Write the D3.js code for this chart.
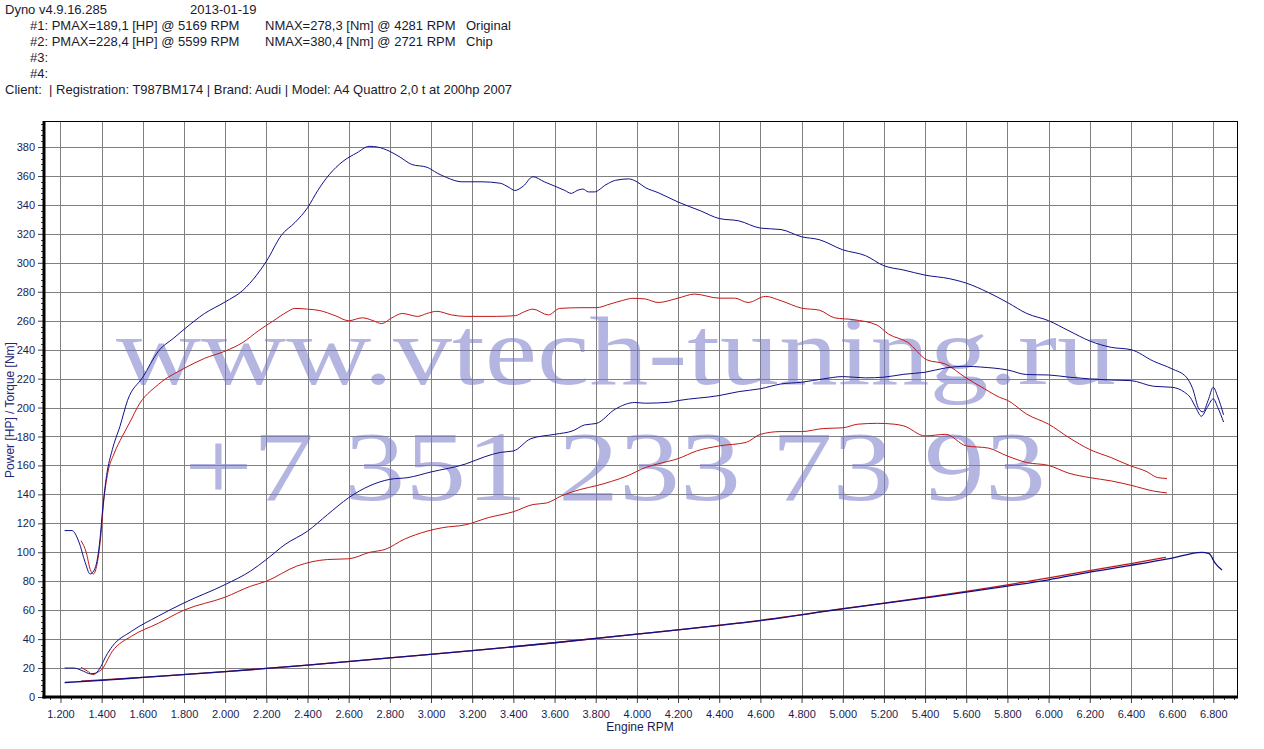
<!DOCTYPE html>
<html><head><meta charset="utf-8">
<script src="https://cdn.jsdelivr.net/npm/d3@7"></script>
<style>body{margin:0;background:#fff}svg{display:block}</style>
</head><body>
<svg id="c" width="1264" height="749"></svg>
<script>
// ---- header texts ----
const headerLines = [
  ["Dyno v4.9.16.285", "2013-01-19"],
  ["#1: PMAX=189,1 [HP] @ 5169 RPM", "NMAX=278,3 [Nm] @ 4281 RPM", "Original"],
  ["#2: PMAX=228,4 [HP] @ 5599 RPM", "NMAX=380,4 [Nm] @ 2721 RPM", "Chip"],
  ["#3:"],
  ["#4:"],
  ["Client:  | Registration: T987BM174 | Brand: Audi | Model: A4 Quattro 2,0 t at 200hp 2007"]
];
const xTitle = "Engine RPM";
const yTitle = "Power [HP] / Torque [Nm]";
const watermark1 = "www.vtech-tuning.ru";
const watermark2 = "+7 351 233 73 93";

// ---- axis ticks ----
const xTicks = [1200,1400,1600,1800,2000,2200,2400,2600,2800,3000,3200,3400,3600,3800,4000,4200,4400,4600,4800,5000,5200,5400,5600,5800,6000,6200,6400,6600,6800];
const yTicks = [0,20,40,60,80,100,120,140,160,180,200,220,240,260,280,300,320,340,360,380];

// ---- series: Chip torque [Nm] ----
const chipTorqueRpm = [1220,1256,1290,1320,1344,1368,1392,1405,1424,1452,1489,1526,1600,1676,1750,1800,1900,2000,2086,2150,2200,2273,2340,2400,2450,2506,2571,2640,2700,2740,2800,2850,2906,2981,3030,3075,3150,3243,3336,3380,3407,3448,3495,3550,3601,3650,3681,3710,3737,3765,3793,3850,3896,3960,4000,4041,4103,4200,4308,4400,4495,4600,4700,4800,4886,5000,5110,5200,5297,5400,5520,5600,5707,5800,5894,6000,6099,6200,6304,6400,6510,6600,6669,6700,6730,6750,6775,6800,6820,6850];
const chipTorqueVal = [115,115,107,93,85,89,109,130,153,171,187,205,221,239,248,254,265,273,281,291,301,319,328,338,350,361,370,376,380.5,380,377,373,368,366,362,359,356,356,355,352,350,353,359.5,356,353,350,348,350,351,349,349,354,357,358,356,352,348.5,342,336,330.6,329,324,323,318,316,309,305,298,295,291.5,289,286,279.5,272.6,265,260,253,246,241.6,240,232,226.7,221,213,199,197,205,214,208,195];

// ---- series: Original torque [Nm] ----
const origTorqueRpm = [1300,1325,1345,1360,1375,1395,1410,1430,1460,1500,1545,1573,1676,1800,1900,2000,2086,2161,2235,2300,2338,2400,2460,2534,2600,2666,2720,2760,2810,2860,2935,2980,3028,3100,3168,3317,3410,3450,3495,3570,3625,3728,3803,3869,3930,3981,4041,4103,4200,4280,4400,4475,4540,4625,4700,4800,4886,4961,5054,5166,5222,5316,5408,5500,5594,5688,5763,5800,5894,6000,6099,6200,6304,6400,6473,6530,6575];
const origTorqueVal = [108,100,88,85,90,110,135,155,168,180,192,200,216,227,234,239,245,253,260,266,268.5,268,267,263.5,260,262,260,258,262,265,263,265,266.5,264,263,263,263.5,266,268,264,268.5,269,269,271.5,274,275.5,275,272.6,275.6,278.4,275.6,275.6,272.6,276.8,273.8,268.7,267.3,262,260.7,257,250.8,245,233,230,221,213,207,205,195.4,188.5,179.2,171,165.4,159.6,156,151.6,151];

// ---- series: Chip power [HP] ----
const chipPowerRpm = [1220,1265,1312,1345,1370,1396,1420,1452,1545,1676,1800,2000,2123,2200,2291,2400,2497,2600,2703,2800,2888,3000,3168,3261,3336,3400,3485,3601,3690,3746,3803,3896,3990,4041,4159,4200,4400,4495,4600,4700,4800,4905,5000,5110,5200,5297,5400,5500,5600,5669,5800,5894,6000,6099,6200,6304,6400,6510,6600,6660,6688,6715,6742,6770,6800,6822,6850];
const chipPowerVal = [20,20,17.8,16,16.5,21,28,35,45.4,56,65,77.7,87,95,105.4,114.6,126,137.7,146,150.4,151.6,155.5,161,166,169,170,178.5,181.5,184,188,189,199,203.5,203,203.7,204.8,208.3,211,213,216.3,217.5,219.8,221.4,220.5,221,223,224.4,227.4,228.5,228,226,222.8,222.5,221,219.8,219,218.6,214.7,214,210.6,207,200,194,200,206,200,190];

// ---- series: Original power [HP] ----
const origPowerRpm = [1300,1330,1358,1380,1400,1452,1545,1676,1800,2000,2123,2200,2347,2497,2600,2703,2777,2870,2981,3056,3168,3280,3400,3495,3560,3634,3728,3803,3877,3952,4041,4100,4200,4290,4400,4532,4600,4700,4800,4905,5000,5073,5169,5250,5297,5400,5500,5600,5707,5800,5894,6000,6099,6200,6304,6400,6510,6575];
const origPowerVal = [20.5,18,15.5,17,19,31.6,42,51,60,69,76.5,80,90.4,95,95.5,100,102,109,114.6,117,119,124,128,133,134,139,143.5,146,149,152.7,158.5,161,164.7,170,173.5,176,181.5,183.4,183.4,185.5,186,188.5,189.1,188.5,187.3,180.4,181.5,173.5,172,166.5,162,160,154.6,151.6,149.3,146.3,142.3,141];

// ---- series: loss curves ----
const chipLossRpm = [1220,1400,1600,2000,2400,2800,3200,3600,4000,4600,5000,5400,5600,5800,6000,6200,6400,6600,6743,6780,6808,6842];
const chipLossVal = [10,11.5,13.5,17.5,22,27,32,37.5,43.5,52.8,60.9,68.5,72.4,76.6,81,86.3,91,96,100,99,92.7,87.7];
const origLossRpm = [1300,1600,2000,2400,2800,3200,3600,4000,4600,5000,5400,5800,6000,6200,6400,6570];
const origLossVal = [11,13.5,17.5,22,27,32,37.5,43.5,53,61,68.8,77.5,82.3,87.3,92.2,96.5];

const BLUE = "#10108a", RED = "#c01818";
const seriesList = [
  {rpm: origLossRpm, val: origLossVal, color: RED, w: 1.3},
  {rpm: chipLossRpm, val: chipLossVal, color: BLUE, w: 1.3},
  {rpm: origTorqueRpm, val: origTorqueVal, color: RED, w: 1},
  {rpm: origPowerRpm, val: origPowerVal, color: RED, w: 1},
  {rpm: chipTorqueRpm, val: chipTorqueVal, color: BLUE, w: 1},
  {rpm: chipPowerRpm, val: chipPowerVal, color: BLUE, w: 1}
];

// ---- drawing ----
const SANS = "'Liberation Sans',Arial,sans-serif";
const SERIF = "'Liberation Serif','Times New Roman',serif";
const svg = d3.select("#c");
svg.append("rect").attr("width",1264).attr("height",749).attr("fill","#fff");
const L = 44, R = 1238, T = 121, B = 697;
const x = d3.scaleLinear().domain([1120, 6920]).range([L, R]);
const y = d3.scaleLinear().domain([0, 398]).range([B, T]);

// header
const hdr = svg.append("g").style("font-family", SANS).style("font-size", "13px").attr("fill", "#1a1a2e");
const hx = [[5,190],[30,265,466],[30,265,466],[30],[30],[5]];
headerLines.forEach((line, i) => {
  line.forEach((t, j) => {
    hdr.append("text").attr("x", hx[i][j]).attr("y", 14 + i*16).style("white-space","pre").text(t);
  });
});

// grid
const grid = svg.append("g").attr("stroke", "#808080").attr("stroke-width", 1).attr("shape-rendering","crispEdges");
grid.selectAll("line.v").data(xTicks).join("line")
  .attr("x1", d => Math.round(x(d))+0.5).attr("x2", d => Math.round(x(d))+0.5)
  .attr("y1", T).attr("y2", B);
grid.selectAll("line.h").data(yTicks.filter(d => d>0)).join("line")
  .attr("x1", L).attr("x2", R)
  .attr("y1", d => Math.round(y(d))+0.5).attr("y2", d => Math.round(y(d))+0.5);

// watermark
const wm = svg.append("g").style("font-family", SERIF)
  .attr("fill", "#7878c8").attr("fill-opacity", 0.55);
wm.append("text").attr("x", 116).attr("y", 384).style("font-size", "97px")
  .attr("textLength", 1000).attr("lengthAdjust", "spacingAndGlyphs").text(watermark1);
wm.append("text").attr("x", 184).attr("y", 500).style("font-size", "99px")
  .attr("textLength", 862).attr("lengthAdjust", "spacingAndGlyphs").text(watermark2);

// border
svg.append("rect").attr("x", L+0.5).attr("y", T+0.5).attr("width", R-L-1).attr("height", B-T)
  .attr("fill","none").attr("stroke","#000").attr("stroke-width",1).attr("shape-rendering","crispEdges");

// curves
const line = d3.line().curve(d3.curveMonotoneX);
seriesList.forEach(s => {
  const pts = s.rpm.map((r, i) => [x(r), y(s.val[i])]);
  svg.append("path").attr("d", line(pts)).attr("fill","none")
    .attr("stroke", s.color).attr("stroke-width", s.w).attr("stroke-linejoin","round");
});

// axes
const loc = d3.formatLocale({decimal: ",", thousands: ".", grouping: [3], currency: ["",""]});
const fmt = loc.format(",.0f");
const labelColor = "#1c1c50";

const xAxis = svg.append("g").attr("transform", `translate(0,${B})`)
  .call(d3.axisBottom(x).tickValues(xTicks).tickFormat(fmt).tickSize(6).tickSizeOuter(0));
xAxis.select(".domain").remove();
xAxis.selectAll("text").style("font-size", "11px").attr("fill", labelColor).attr("dy", "1.1em")
  .style("font-family", SANS);
xAxis.selectAll("line").attr("stroke", "#404040");
const xMinor = d3.range(1150, 6920, 50).filter(v => v % 200 !== 0 && v >= 1120);
svg.append("g").selectAll("line").data(xMinor).join("line")
  .attr("x1", d => Math.round(x(d))+0.5).attr("x2", d => Math.round(x(d))+0.5)
  .attr("y1", B).attr("y2", B+3).attr("stroke","#404040").attr("shape-rendering","crispEdges");

const yAxis = svg.append("g").attr("transform", `translate(${L},0)`)
  .call(d3.axisLeft(y).tickValues(yTicks).tickFormat(d3.format("d")).tickSize(6).tickSizeOuter(0));
yAxis.select(".domain").remove();
yAxis.selectAll("text").style("font-size", "11px").attr("fill", labelColor)
  .style("font-family", SANS);
yAxis.selectAll("line").attr("stroke", "#404040");
const yMinor = d3.range(4, 398, 4).filter(v => v % 20 !== 0);
svg.append("g").selectAll("line").data(yMinor).join("line")
  .attr("x1", L-3).attr("x2", L)
  .attr("y1", d => Math.round(y(d))+0.5).attr("y2", d => Math.round(y(d))+0.5)
  .attr("stroke","#404040").attr("shape-rendering","crispEdges");

// thick axis lines
svg.append("line").attr("x1", L).attr("x2", L).attr("y1", T).attr("y2", B+1.5)
  .attr("stroke","#000").attr("stroke-width",3);
svg.append("line").attr("x1", L-1.5).attr("x2", R).attr("y1", B).attr("y2", B)
  .attr("stroke","#000").attr("stroke-width",3);

// titles
svg.append("text").attr("x", 640).attr("y", 731).attr("text-anchor","middle")
  .style("font-family", SANS).style("font-size", "12px").attr("fill", labelColor).text(xTitle);
svg.append("text").attr("transform", "translate(14,410) rotate(-90)").attr("text-anchor","middle")
  .style("font-family", SANS).style("font-size", "12px").attr("fill", "#24247a").text(yTitle);
</script>
</body></html>
